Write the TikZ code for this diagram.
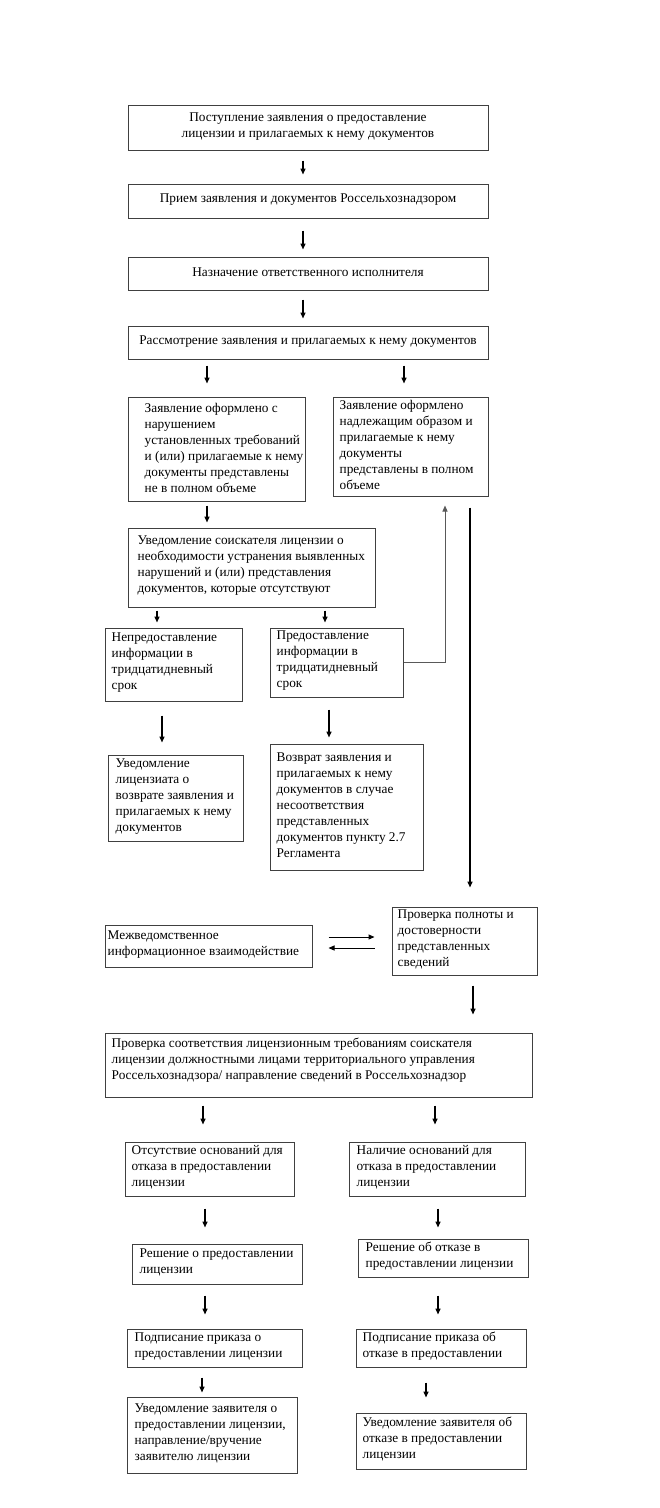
\documentclass[tikz,border=0pt]{standalone}
\usepackage{fontspec}
\setmainfont{Liberation Serif}
\usetikzlibrary{arrows.meta,calc}
\tikzset{
  box/.style={draw=black!75,line width=1pt,rectangle,inner sep=0pt},
  boxtext/.style={inner sep=0pt,font=\fontsize{13.3}{16}\selectfont},
  arr/.style={draw=black,line width=1.4pt,-{Triangle[length=6pt,width=5pt]}},
  thinarr/.style={draw=black!65,line width=1pt,-{Triangle[length=6pt,width=5pt]}},
}
% [yshift] name l t r b inset text  (left aligned)
\newcommand\bx[8][1.5]{%
  \pgfmathsetmacro\bw{#5-#3}\pgfmathsetmacro\bh{#6-#4}%
  \node[box,minimum width=\bw pt,minimum height=\bh pt] (#2) at ({(#3+#5)/2},{(#4+#6)/2}) {};
  \node[boxtext,anchor=west,align=left] (#2t) at ([xshift=#7pt,yshift=#1pt]#2.west) {#8};}
% name l t r b text  (centred)
\newcommand\cbx[6]{%
  \pgfmathsetmacro\bw{#4-#2}\pgfmathsetmacro\bh{#5-#3}%
  \node[box,minimum width=\bw pt,minimum height=\bh pt] (#1) at ({(#2+#4)/2},{(#3+#5)/2}) {};
  \node[boxtext,align=center] (#1t) at ([yshift=1pt]#1.center) {#6};}
\newcommand\varr[5]{%
  \path (#3,0) coordinate (tmpx);
  \draw[arr,shorten <=#4pt,shorten >=#5pt] (#1.south -| tmpx) -- (#2.north -| tmpx);}
\begin{document}
\begin{tikzpicture}[x=1pt,y=-1pt]
\useasboundingbox[fill=white] (0,0) rectangle (660,1508);
\cbx{b1}{128}{105}{488}{150}{Поступление заявления о предоставление\\лицензии и прилагаемых к нему документов}
\cbx{b2}{128}{184}{488}{218}{Прием заявления и документов Россельхознадзором}
\cbx{b3}{128}{257}{488}{290}{Назначение ответственного исполнителя}
\cbx{b4}{128}{326}{488}{359}{Рассмотрение заявления и прилагаемых к нему документов}
\bx{b5}{128}{397}{305}{501}{17}{Заявление оформлено с\\нарушением\\установленных требований\\и (или) прилагаемые к нему\\документы представлены\\не в полном объеме}
\bx{b6}{333}{397}{488}{496}{7}{Заявление оформлено\\надлежащим образом и\\прилагаемые к нему\\документы\\представлены в полном\\объеме}
\bx{b7}{128}{528}{375}{607}{10}{Уведомление соискателя лицензии о\\необходимости устранения выявленных\\нарушений и (или) представления\\документов, которые отсутствуют}
\bx{b8}{105}{628}{242}{701}{7}{Непредоставление\\информации в\\тридцатидневный\\срок}
\bx{b9}{270}{628}{403}{697}{7}{Предоставление\\информации в\\тридцатидневный\\срок}
\bx{b10}{108}{755}{243}{841}{8}{Уведомление\\лицензиата о\\возврате заявления и\\прилагаемых к нему\\документов}
\bx{b11}{270}{744}{423}{870}{7}{Возврат заявления и\\прилагаемых к нему\\документов в случае\\несоответствия\\представленных\\документов пункту 2.7\\Регламента}
\bx{b12}{392}{907}{537}{975}{6}{Проверка полноты и\\достоверности\\представленных\\сведений}
\bx{b13}{105}{925}{312}{967}{3}{Межведомственное\\информационное взаимодействие}
\bx[5]{b14}{105}{1033}{532}{1097}{7}{Проверка соответствия лицензионным требованиям соискателя\\лицензии должностными лицами территориального управления\\Россельхознадзора/ направление сведений в Россельхознадзор}
\bx{b15}{125}{1142}{294}{1196}{7}{Отсутствие оснований для\\отказа в предоставлении\\лицензии}
\bx{b16}{349}{1142}{525}{1196}{8}{Наличие оснований для\\отказа в предоставлении\\лицензии}
\bx{b17}{132}{1244}{302}{1284}{8}{Решение о предоставлении\\лицензии}
\bx{b18}{358}{1239}{528}{1277}{8}{Решение об отказе в\\предоставлении лицензии}
\bx{b19}{127}{1329}{302}{1367}{8}{Подписание приказа о\\предоставлении лицензии}
\bx{b20}{356}{1329}{526}{1367}{7}{Подписание приказа об\\отказе в предоставлении}
\bx{b21}{127}{1397}{297}{1473}{8}{Уведомление заявителя о\\предоставлении лицензии,\\направление/вручение\\заявителю лицензии}
\bx{b22}{356}{1413}{526}{1469}{7}{Уведомление заявителя об\\отказе в предоставлении\\лицензии}
% arrows
\varr{b1}{b2}{303}{10}{9}
\varr{b2}{b3}{303}{12}{7}
\varr{b3}{b4}{303}{9}{7}
\varr{b4}{b5}{207}{6}{13}
\varr{b4}{b6}{404}{6}{13}
\varr{b5}{b7}{207}{4}{5}
\varr{b7}{b8}{157}{3}{5}
\varr{b7}{b9}{325}{3}{5}
\varr{b8}{b10}{162}{14}{12}
\varr{b9}{b11}{329}{12}{6}
\varr{b6}{b12}{470}{11}{19}
\varr{b12}{b14}{473}{10}{18}
\varr{b14}{b15}{203}{8}{17}
\varr{b14}{b16}{435}{8}{17}
\varr{b15}{b17}{205}{12}{16}
\varr{b16}{b18}{438}{12}{11}
\varr{b17}{b19}{205}{11}{14}
\varr{b18}{b20}{438}{18}{14}
\varr{b19}{b21}{202}{10}{4}
\varr{b20}{b22}{426}{15}{15}
% feedback from b9 to b6
\path (445,0) coordinate (upx);
\draw[thinarr,shorten >=9pt] (b9.east) -- (b9.east -| upx) -- (b6.south -| upx);
% interagency arrows
\draw[thinarr,draw=black,shorten <=16pt,shorten >=17pt] ([yshift=9pt]b13.east) -- ([yshift=4pt]b12.west);
\draw[thinarr,draw=black,shorten <=17pt,shorten >=16pt] ([yshift=-7pt]b12.west) -- ([yshift=-2pt]b13.east);
\end{tikzpicture}
\end{document}
